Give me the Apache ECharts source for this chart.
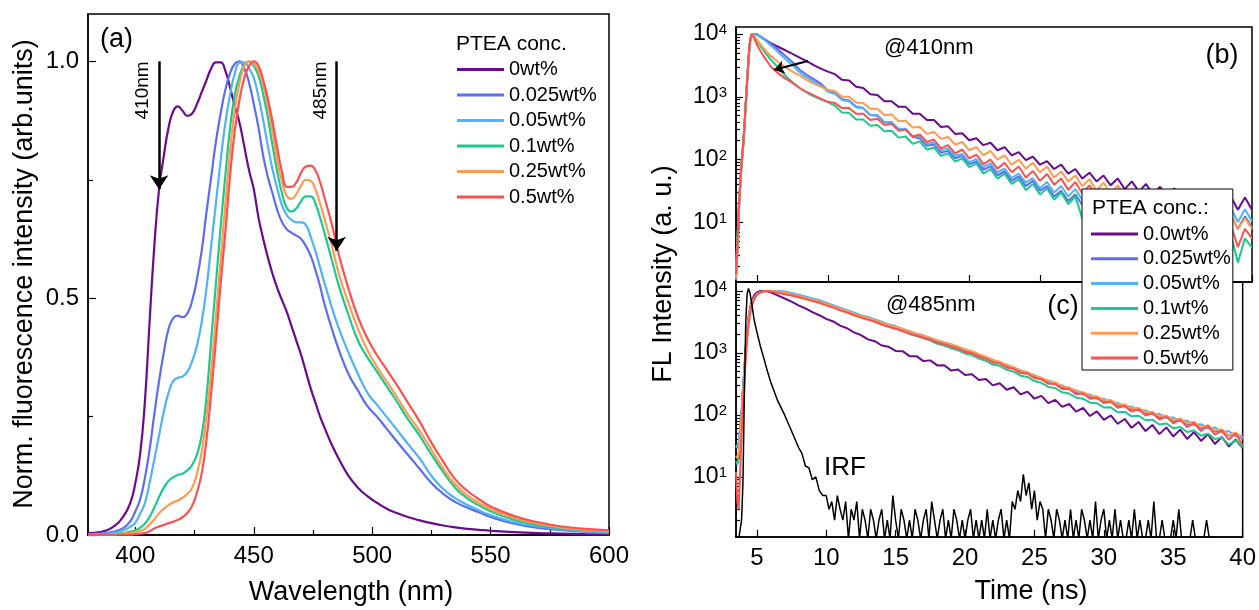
<!DOCTYPE html>
<html><head><meta charset="utf-8">
<script src="https://cdn.jsdelivr.net/npm/echarts@6/dist/echarts.min.js"></script>
<style>html,body{margin:0;padding:0;background:#fff}#c{width:1259px;height:610px}</style>
</head><body><div id="c"></div>
<script>
// ---------- Panel (a): steady-state PL spectra ----------
const wavelength = [380,385,390,395,398,400,402,404,406,408,410,412,414,416,418,420,422,424,426,428,430,432,434,436,438,440,442,444,446,448,450,452,454,456,458,460,462,464,466,468,470,472,474,476,478,480,483,486,490,494,498,502,506,510,515,520,525,530,535,540,545,550,560,570,580,590,600];
const pl_0 = [0.004,0.006,0.015,0.04,0.07,0.11,0.17,0.28,0.45,0.61,0.73,0.80,0.86,0.895,0.905,0.895,0.885,0.89,0.91,0.935,0.96,0.985,0.998,0.998,0.98,0.945,0.905,0.87,0.82,0.77,0.73,0.67,0.625,0.585,0.55,0.52,0.495,0.47,0.44,0.41,0.38,0.345,0.31,0.28,0.25,0.225,0.19,0.16,0.125,0.10,0.082,0.068,0.056,0.047,0.038,0.031,0.025,0.02,0.016,0.013,0.011,0.009,0.006,0.004,0.003,0.002,0.001];
const pl_025 = [0.002,0.003,0.006,0.015,0.03,0.05,0.075,0.12,0.18,0.255,0.325,0.385,0.435,0.458,0.463,0.46,0.468,0.495,0.54,0.60,0.68,0.755,0.83,0.89,0.94,0.975,0.995,1.0,0.985,0.955,0.91,0.86,0.80,0.755,0.72,0.685,0.66,0.645,0.638,0.632,0.625,0.61,0.59,0.56,0.525,0.485,0.435,0.39,0.34,0.305,0.272,0.25,0.225,0.20,0.17,0.14,0.11,0.087,0.07,0.058,0.048,0.038,0.024,0.015,0.01,0.007,0.004];
const pl_05 = [0.001,0.002,0.004,0.01,0.018,0.026,0.045,0.067,0.11,0.16,0.21,0.26,0.30,0.325,0.332,0.335,0.345,0.367,0.40,0.45,0.52,0.61,0.70,0.79,0.87,0.93,0.975,0.997,0.998,0.985,0.965,0.925,0.875,0.82,0.77,0.73,0.695,0.675,0.665,0.66,0.66,0.655,0.63,0.60,0.565,0.53,0.48,0.435,0.385,0.34,0.30,0.275,0.25,0.225,0.193,0.162,0.125,0.097,0.078,0.064,0.052,0.042,0.027,0.018,0.012,0.008,0.005];
const pl_1 = [0.001,0.001,0.002,0.004,0.007,0.01,0.015,0.024,0.038,0.058,0.08,0.10,0.114,0.122,0.127,0.13,0.137,0.148,0.17,0.21,0.29,0.41,0.53,0.65,0.76,0.86,0.93,0.97,0.992,1.0,0.99,0.97,0.93,0.88,0.82,0.765,0.72,0.69,0.683,0.69,0.705,0.715,0.715,0.70,0.67,0.635,0.58,0.525,0.465,0.41,0.375,0.345,0.315,0.285,0.245,0.21,0.17,0.133,0.10,0.078,0.063,0.05,0.032,0.021,0.014,0.01,0.007];
const pl_25 = [0.0,0.0,0.001,0.003,0.004,0.006,0.009,0.013,0.022,0.033,0.046,0.055,0.063,0.069,0.073,0.079,0.087,0.10,0.13,0.175,0.25,0.345,0.46,0.58,0.70,0.81,0.90,0.955,0.99,1.0,0.995,0.98,0.95,0.905,0.85,0.79,0.745,0.715,0.71,0.72,0.738,0.75,0.748,0.73,0.70,0.665,0.61,0.55,0.49,0.435,0.39,0.355,0.325,0.295,0.255,0.22,0.18,0.14,0.107,0.084,0.068,0.055,0.036,0.024,0.016,0.011,0.008];
const pl_5 = [0.0,0.0,0.0,0.001,0.001,0.002,0.003,0.004,0.008,0.014,0.018,0.021,0.025,0.028,0.032,0.038,0.047,0.062,0.09,0.13,0.20,0.30,0.41,0.53,0.64,0.76,0.855,0.92,0.965,0.99,1.0,0.99,0.96,0.92,0.87,0.815,0.765,0.735,0.735,0.745,0.765,0.778,0.78,0.77,0.745,0.71,0.655,0.59,0.52,0.46,0.415,0.38,0.35,0.32,0.28,0.24,0.195,0.155,0.118,0.094,0.076,0.06,0.04,0.027,0.018,0.013,0.01];
const namesA = ['0wt%','0.025wt%','0.05wt%','0.1wt%','0.25wt%','0.5wt%'];
const xTicksA = [400,450,500,550,600];
const xMinorA = [425,475,525,575];
const yTicksA = [0,0.5,1.0];
const yMinorA = [0.25,0.75];

// ---------- Panels (b) and (c): time-resolved PL ----------
const time = [3.5,3.6,3.7,3.8,3.9,4.0,4.1,4.2,4.3,4.4,4.5,4.6,4.8,5.0,5.25,5.5,5.75,6.0,6.5,7.0,7.5,8.0,8.5,9.0,9.5,10,10.5,11,11.5,12,12.5,13,13.5,14,14.5,15,15.5,16,16.5,17,17.5,18,18.5,19,19.5,20,20.5,21,21.5,22,22.5,23,23.5,24,24.5,25,25.5,26,26.5,27,27.5,28,28.5,29,29.5,30,30.5,31,31.5,32,32.5,33,33.5,34,34.5,35,35.5,36,36.5,37,37.5,38,38.5,39,39.5,40];
// (b) @410nm
const b410_0 = [1.5,4,16,40,90,160,350,850,2000,4500,7900,9600, 10000,9800,8900,8300,7600,7100, 6200,5500,4800,4200,3700,3200,2800, 2510,2290,1860,1820,1450,1380,1100,1070,851,851, 692,692,537,537,427,427,331,339,257,263, 204,219,170,186,141,158,117,132,98,112, 83,95,71,83,60,71,50,62,45,56, 39,50,34,45,31,41,28,37,25,35, 23,32,21,30,19,28,18,26,16,25, 16];
const b410_025 = [1.2,3,14,38,85,150,330,800,1900,4300,7600,9500, 10000,9770,9120,8320,7590,6920, 5620,4470,3550,2690,2240,1910,1620, 1260,1150,912,871,692,661,513,501,389,389, 302,302,229,219,166,174,129,138,105,115, 85,93,69,79,56,65,46,54,38,46, 32,38,26,32,22,28,19,25,16,21, 14,19.5,13,18,12,17,11,16,10.5,15.5, 9.8,15,9.3,14.5,8.9,13.8,8.3,13.2,7.9,12.6, 8.3];
const b410_05 = [1.8,5,17,42,90,160,340,820,1950,4400,7800,9500, 10000,9550,8910,8130,7240,6460, 5130,3980,3160,2450,2040,1740,1510, 1200,1120,891,851,676,661,513,513,398,398, 309,309,234,234,178,186,141,151,115,123, 91,102,76,87,63,72,51,60,43,51, 35,44,30,38,26,34,23,30,20,27, 18,25,16.6,23,15,21,14,21,13.5,20, 12.6,19,12,18.6,11.5,17.8,10.7,17,10.2,16.2, 10.5];
const b410_1 = [2,6,18,45,95,170,360,850,2000,4500,8000,10000, 8910,7590,6310,5250,4470,3800, 2880,2140,1700,1380,1170,1020,912, 813,724,562,550,437,437,347,355,282,288, 224,234,178,195,145,155,115,126,93,105, 76,87,60,71,50,60,41,49,33,41, 28,35,23,30,19.5,26,11.5,23,14.8,20, 12.6,17.4,11,15.5,9.3,13.5,8.1,12,7.1,10.7, 6.2,9.5,5.5,8.5,4.6,7.2,4.0,6.5,2.3,5.6, 4.0];
const b410_25 = [1.3,3.5,15,38,85,155,330,820,1950,4400,7900,10000, 9120,7940,6760,5750,5010,4370, 3550,2950,2510,2190,1860,1620,1450, 1290,1230,1000,1000,813,794,646,646,513,525, 407,417,324,331,257,275,214,229,174,191, 141,158,117,138,100,117,83,100,72,89, 63,78,52,65,45,56,38,49,32,43, 29,39,25,34,21,30,19,26,16,23, 13.8,20,12,17.8,10.5,15.5,8.9,13.5,7.8,11.7, 7.9];
const b410_5 = [1.5,4.5,17,45,95,170,360,850,2050,4600,8100,10000, 8320,6610,5250,4270,3550,2950, 2340,1950,1660,1380,1200,1050,933, 832,794,661,661,537,537,427,447,355,372, 288,302,234,251,191,209,151,170,126,145, 105,120,85,100,72,89,63,78,52,66, 46,59,40,50,33,44,29,39,25,34, 21,30,18,26,15,22,12.9,19,11,16, 9.1,13.8,7.8,12,6.5,10.2,5.6,9.1,4.1,7.9, 5.6];
// (c) @485nm
const c485_0 = [15,14,20,45,100,250,550,1200,2300,3700,5200,6500, 8500,9500,10000,10000,9900,9550, 8510,7590,6760,5890,5250,4570,4070, 3550,3230,2760,2510,2150,1950,1660,1550,1320,1260, 1080,1070,890,890,740,760,630,635,520,540, 440,455,365,380,300,325,255,280,215,238, 183,203,155,175,135,150,113,130,96,114, 83,98,72,86,62,77,55,69,49,63, 45,58,41,53,38,49,34,44,31,40, 29];
const c485_025 = [32,29,36,62,115,260,540,1150,2150,3500,4800,5900, 7600,8900,9600,9900,10000,10000, 9900,9500,9050,8500,7950,7350,6950, 6300,5780,5220,4800,4350,4000,3700,3400,3080,2830, 2620,2420,2180,2020,1850,1720,1540,1440,1310,1220, 1090,1020,905,835,740,695,615,570,498,475, 412,390,335,322,280,270,230,226,195,192, 165,168,140,144,121,126,105,110,90,96, 79,86,70,76,61,67,54,57,46,50, 40];
const c485_05 = [30,28,35,60,110,250,520,1100,2100,3400,4700,5800, 7500,8800,9500,9900,10000,10000, 10000,9800,9350,8750,8150,7600,7100, 6500,5900,5400,4920,4500,4080,3830,3470,3200,2880, 2720,2450,2270,2040,1930,1740,1600,1440,1370,1220, 1140,1020,950,830,775,690,650,560,530,465, 440,378,360,313,300,260,250,216,214,183, 183,160,156,136,137,118,119,102,104,89, 91,79,81,69,71,60,63,52,55,45, 47];
const c485_1 = [18,16,22,45,90,220,480,1050,2050,3400,4700,5900, 7700,8900,9600,9900,10000,10000, 9700,9300,8850,8250,7700,7150,6680, 6050,5540,5000,4600,4150,3800,3500,3220,2900,2670, 2450,2260,2030,1880,1720,1590,1410,1320,1190,1110, 980,925,810,750,650,620,535,500,430,410, 352,330,283,272,232,222,190,183,158,155, 132,133,110,113,95,97,82,84,70,73, 61,64,53,56,46,50,41,43,33,39, 30];
const c485_25 = [22,20,26,48,95,230,490,1050,2050,3400,4700,5900, 7600,8900,9600,9900,10000,10000, 9800,9350,8950,8350,7820,7260,6820, 6200,5700,5150,4750,4300,3960,3680,3390,3080,2840, 2650,2440,2220,2060,1920,1770,1610,1490,1390,1270, 1150,1070,955,875,775,725,645,590,523,492, 435,400,352,334,292,278,243,233,206,199, 174,173,148,148,128,129,111,112,96,98, 83,87,73,77,63,68,56,59,47,52, 42];
const c485_5 = [12,4,3,12,45,130,330,780,1600,2800,4100,5400, 7300,8700,9500,9900,10000,9800, 9350,8900,8500,7950,7420,6900,6480, 5880,5400,4880,4500,4060,3740,3460,3190,2890,2660, 2470,2270,2060,1910,1760,1640,1470,1380,1260,1190, 1040,990,870,810,705,680,585,555,475,462, 393,378,318,315,262,263,216,222,183,189, 155,165,131,140,113,123,98,107,84,94, 73,84,64,74,55,66,48,56,40,50, 32];
// instrument response function
const irfTimeHead = [3.5,3.7,3.9,4.0,4.1,4.2,4.3,4.4,4.5,4.6,4.7,4.8,5.0,5.25,5.5,5.75,6.0,6.5,7.0,7.5,8.0,8.25,8.5,8.75,9.0,9.25,9.5,9.75];
const irfHead = [1,1,2,8,200,3000,9000,11000,9500,7000,5000,3500,2200,1300,830,520,340,170,100,55,30,24,15,14,9,10,6,5];
const irfTailStart = 10, irfTailStep = 0.2;
const irfTail = [5,3,4,2,5,3,2,4,1,3, 2,4,1,3,2,1,3,2,1,2, 3,1,2,1,5,2,1,3,2,1, 2,1,3,2,1,2,3,1,4,2, 1,2,3,1,2,1,3,2,1,2, 1,2,3,1,2,1,2,1,3,1, 2,1,2,3,1,2,1,4,3,6, 4,11,5,8,3,6,2,4,3,1, 3,2,1,3,2,1,2,1,3,1, 2,1,3,2,1,2,1,4,1,2, 3,1,2,1,3,1,2,1,1,2, 1,3,1,2,1,1,2,1,4,1, 1,2,1,1,1,2,1,3,1,1, 1,1,2,1,1,1,1,2,1,1, 1,1,1,1,1,1,1,1,1,1, 1];
const namesB = ['0.0wt%','0.025wt%','0.05wt%','0.1wt%','0.25wt%','0.5wt%'];
const xTicksBC = [5,10,15,20,25,30,35,40];
const yTicksLog = [10,100,1000,10000];
const yMinorLog = [2,3,4,5,6,7,8,9,20,30,40,50,60,70,80,90,200,300,400,500,600,700,800,900,2000,3000,4000,5000,6000,7000,8000,9000];

// ---------- styling ----------
const colors = ['#6A0A8E','#5E6BF2','#4FB3F5','#1BC98E','#FF9B50','#FF5050'];
const FONT = '"Liberation Sans", Arial, Helvetica, sans-serif';
const BLACK = '#000';

function pair(xs, ys, name) {
  if (xs.length !== ys.length) throw new Error(name + ': ' + xs.length + ' vs ' + ys.length);
  return xs.map((x, i) => [x, ys[i]]);
}
const irfData = pair(irfTimeHead, irfHead, 'irfHead').concat(irfTail.map((v, i) => [+(irfTailStart + i * irfTailStep).toFixed(2), v]));

const plSets = [pl_0, pl_025, pl_05, pl_1, pl_25, pl_5];
const bSets = [b410_0, b410_025, b410_05, b410_1, b410_25, b410_5];
const cSets = [c485_0, c485_025, c485_05, c485_1, c485_25, c485_5];

const gA = {left: 88, top: 14, width: 521, height: 521};
const gB = {left: 736, top: 27, width: 516, height: 255};
const gC = {left: 736, top: 282, width: 516, height: 255};
const gridBase = {show: true, borderColor: BLACK, borderWidth: 1.5, backgroundColor: 'transparent', containLabel: false};
const gridOverlay = {show: false, containLabel: false};

const axisLineS = {show: true, onZero: false, lineStyle: {color: BLACK, width: 1.5}};
const tickS = (vals, len) => ({show: true, inside: true, length: len, customValues: vals, lineStyle: {color: BLACK, width: 1.2}});
const lbl = (vals, extra) => Object.assign({show: true, customValues: vals, color: BLACK, fontFamily: FONT, fontSize: 24}, extra || {});
const hiddenAxis = (o) => Object.assign({axisLine: {show: false}, axisLabel: {show: false}, splitLine: {show: false}}, o);
const noAxis = (o) => Object.assign({show: false, axisLine: {show: false}, axisTick: {show: false}, axisLabel: {show: false}, splitLine: {show: false}}, o);

const logLabel = {
  fontSize: 23,
  formatter: v => '10{s|' + Math.round(Math.log10(v)) + '}',
  rich: {s: {fontSize: 15, fontFamily: FONT, color: BLACK, verticalAlign: 'top'}},
  margin: 9
};

const series = [];
plSets.forEach((d, i) => {
  series.push({
    name: namesA[i], type: 'line', xAxisIndex: 0, yAxisIndex: 0,
    data: pair(wavelength, d, namesA[i]), smooth: 0.5,
    showSymbol: false, lineStyle: {width: 2.2, color: colors[i]}, itemStyle: {color: colors[i]},
    markLine: i === 0 ? {
      silent: true, symbol: ['none', 'arrow'], symbolSize: 14, animation: false,
      lineStyle: {color: BLACK, width: 2.5, type: 'solid'}, label: {show: false},
      data: [[{coord: [410, 1.0]}, {coord: [410, 0.73]}], [{coord: [485, 1.0]}, {coord: [485, 0.6]}]]
    } : undefined
  });
});
bSets.forEach((d, i) => {
  series.push({
    name: namesB[i], type: 'line', xAxisIndex: 1, yAxisIndex: 1,
    data: pair(time, d, 'b' + i), showSymbol: false,
    lineStyle: {width: 2, color: colors[i]}, itemStyle: {color: colors[i]},
    markLine: i === 0 ? {
      silent: true, symbol: ['none', 'arrow'], symbolSize: 10, animation: false,
      lineStyle: {color: BLACK, width: 2, type: 'solid'}, label: {show: false},
      data: [[{coord: [8.6, 3720]}, {coord: [6.2, 2700]}]]
    } : undefined
  });
});
cSets.forEach((d, i) => {
  series.push({
    name: namesB[i], type: 'line', xAxisIndex: 2, yAxisIndex: 2,
    data: pair(time, d, 'c' + i), showSymbol: false,
    lineStyle: {width: 2, color: colors[i]}, itemStyle: {color: colors[i]}
  });
});
series.push({
  name: 'IRF', type: 'line', xAxisIndex: 2, yAxisIndex: 2, data: irfData,
  showSymbol: false, lineStyle: {width: 1.5, color: BLACK}, itemStyle: {color: BLACK}
});

const option = {
  animation: false,
  backgroundColor: '#fff',
  textStyle: {fontFamily: FONT},
  grid: [
    Object.assign({}, gridBase, gA), Object.assign({}, gridBase, gB), Object.assign({}, gridBase, gC),
    Object.assign({}, gridOverlay, gA), Object.assign({}, gridOverlay, gB), Object.assign({}, gridOverlay, gC)
  ],
  xAxis: [
    {gridIndex: 0, type: 'value', position: 'bottom', min: 380, max: 600, axisLine: axisLineS, axisTick: tickS(xTicksA, 8),
     axisLabel: lbl(xTicksA, {margin: 9}), splitLine: {show: false}},
    {gridIndex: 1, type: 'value', position: 'bottom', min: 3.5, max: 40, axisLine: axisLineS, axisTick: tickS(xTicksBC, 7),
     axisLabel: {show: false}, splitLine: {show: false}},
    {gridIndex: 2, type: 'value', position: 'bottom', min: 3.5, max: 40, axisLine: axisLineS, axisTick: tickS(xTicksBC, 7),
     axisLabel: lbl(xTicksBC, {margin: 9}), splitLine: {show: false}},
    hiddenAxis({gridIndex: 3, type: 'value', position: 'bottom', min: 380, max: 600, axisTick: tickS(xMinorA, 5)}),
    noAxis({gridIndex: 4, type: 'value', min: 3.5, max: 40}),
    noAxis({gridIndex: 5, type: 'value', min: 3.5, max: 40})
  ],
  yAxis: [
    {gridIndex: 0, type: 'value', position: 'left', min: 0, max: 1.1, axisLine: axisLineS, axisTick: tickS(yTicksA, 8),
     axisLabel: lbl(yTicksA, {formatter: v => v.toFixed(1), margin: 9}), splitLine: {show: false}},
    {gridIndex: 1, type: 'log', position: 'left', logBase: 10, min: 1.13, max: 12900, axisLine: axisLineS,
     axisTick: tickS(yTicksLog, 7), axisLabel: lbl(yTicksLog, logLabel), splitLine: {show: false}},
    {gridIndex: 2, type: 'log', position: 'left', logBase: 10, min: 1.07, max: 14000, axisLine: axisLineS,
     axisTick: tickS(yTicksLog, 7), axisLabel: lbl(yTicksLog, logLabel), splitLine: {show: false}},
    hiddenAxis({gridIndex: 3, type: 'value', position: 'left', min: 0, max: 1.1, axisTick: tickS(yMinorA, 5)}),
    hiddenAxis({gridIndex: 4, type: 'log', position: 'left', logBase: 10, min: 1.13, max: 12900, axisTick: tickS(yMinorLog, 4)}),
    hiddenAxis({gridIndex: 5, type: 'log', position: 'left', logBase: 10, min: 1.07, max: 14000, axisTick: tickS(yMinorLog, 4)})
  ],
  legend: [
    {data: namesA, orient: 'vertical', left: 457, top: 59.5, padding: 0, itemWidth: 47, itemHeight: 3,
     itemGap: 5.5, icon: 'rect', selectedMode: false,
     textStyle: {fontSize: 20, lineHeight: 20, color: BLACK, fontFamily: FONT}},
    {data: namesB, orient: 'vertical', left: 1082, top: 189, padding: [35, 2, 2, 9], itemWidth: 47, itemHeight: 3,
     itemGap: 4.8, icon: 'rect', selectedMode: false, backgroundColor: '#fff', borderColor: BLACK, borderWidth: 1,
     textStyle: {fontSize: 20, lineHeight: 20, color: BLACK, fontFamily: FONT}}
  ],
  series: series
};

const chart = echarts.init(document.getElementById('c'), null, {renderer: 'canvas', width: 1259, height: 610});
chart.setOption(option);

const p410 = chart.convertToPixel({xAxisIndex: 0, yAxisIndex: 0}, [410, 1.0]);
const p485 = chart.convertToPixel({xAxisIndex: 0, yAxisIndex: 0}, [485, 1.0]);
const txt = (text, x, y, size, align, extra) => Object.assign({
  type: 'text', x: x, y: y, z: 100,
  style: {text: text, fill: BLACK, font: size + 'px ' + FONT, align: align || 'left', verticalAlign: 'middle'}
}, extra || {});
chart.setOption({
  graphic: [
    txt('(a)', 100, 40, 27),
    txt('(b)', 1222, 56, 27, 'center'),
    txt('(c)', 1063, 307, 27, 'center'),
    txt('@410nm', 884, 48, 22),
    txt('@485nm', 886, 305, 22),
    txt('IRF', 824, 468, 26),
    txt('PTEA conc.', 456, 44, 21),
    txt('PTEA conc.:', 1092, 208, 21),
    txt('Wavelength (nm)', 351, 593, 27, 'center'),
    txt('Time (ns)', 1031, 592, 27, 'center'),
    txt('Norm. fluorescence intensity (arb.units)', 25, 274, 27, 'center', {rotation: Math.PI / 2}),
    txt('FL Intensity (a. u.)', 664, 274, 27, 'center', {rotation: Math.PI / 2}),
    txt('410nm', p410[0] - 16, p410[1], 19, 'right', {rotation: Math.PI / 2}),
    txt('485nm', p485[0] - 16, p485[1], 19, 'right', {rotation: Math.PI / 2})
  ]
});
</script>
</body></html>
